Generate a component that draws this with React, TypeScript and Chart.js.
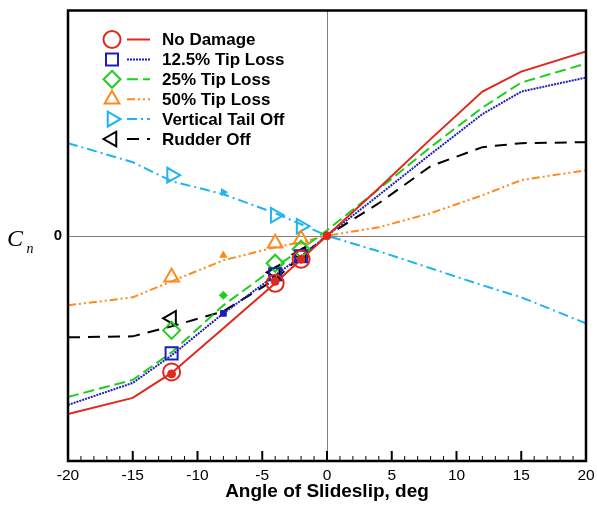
import React, { useEffect, useRef } from 'react';
import { Chart, registerables } from 'chart.js';

Chart.register(...registerables);

// ---------- Data ----------
const betaLine = [-20, -15, -12, -8, -4, -2, 0, 4, 8, 12, 15, 20];
const noDamageLine = [-0.0356, -0.0324, -0.0274, -0.0185, -0.0095, -0.0047, 0.0, 0.0095, 0.0193, 0.0288, 0.0328, 0.0368];
const tip125Line = [-0.0338, -0.0294, -0.0239, -0.0155, -0.0079, -0.0041, 0.0, 0.0081, 0.0163, 0.0243, 0.0288, 0.0316];
const tip25Line = [-0.0322, -0.0288, -0.0233, -0.0139, -0.0063, -0.0027, 0.0011, 0.0093, 0.0177, 0.0256, 0.0306, 0.0344];
const tip50Line = [-0.0139, -0.0123, -0.0091, -0.0049, -0.0023, -0.0013, 0.0, 0.0017, 0.0045, 0.0081, 0.0111, 0.0131];
const vtOffLine = [0.0185, 0.0147, 0.0109, 0.0083, 0.0045, 0.0023, 0.0, -0.0031, -0.0065, -0.0099, -0.0123, -0.0175];
const rudderOffLine = [-0.0203, -0.0201, -0.0181, -0.0151, -0.0087, -0.0041, 0.0, 0.0065, 0.0139, 0.0177, 0.0185, 0.0187];

const betaExp = [-12, -4, -2];
const noDamageExp = [-0.0272, -0.0095, -0.0047];
const tip125Exp = [-0.0235, -0.0077, -0.0041];
const tip25Exp = [-0.0189, -0.0055, -0.0027];
const tip50Exp = [-0.0083, -0.0015, -0.0007];
const vtOffExp = [0.0121, 0.0041, 0.0019];
const rudderOffExp = [-0.0165, -0.0073, -0.0037];

const betaSmall = [-8];
const tip125Small = [-0.0155];
const tip25Small = [-0.0119];
const tip50Small = [-0.0039];
const vtOffSmall = [0.0087];
const betaRedSmall = [-12, -4, -2, 0];
const noDamageSmall = [-0.0276, -0.0091, -0.0047, 0.0];

const xTickMin = -20;
const xTickMax = 20;
const yMin = -0.045;
const yMax = 0.045;

const labels = ['No Damage', '12.5% Tip Loss', '25% Tip Loss', '50% Tip Loss', 'Vertical Tail Off', 'Rudder Off'];
const xTitle = 'Angle of Slideslip, deg';

// ---------- Styles ----------
const RED = '#e0281c';
const BLUE = '#1f1fb8';
const GREEN = '#1ecf1e';
const ORANGE = '#ff8a1c';
const CYAN = '#1cb4f2';
const BLACK = '#000000';

const SANS = '"Liberation Sans", Arial, Helvetica, sans-serif';

const series = [
  { label: labels[0], color: RED, dash: [] as number[], style: 'circle', rot: 0, line: noDamageLine, exp: noDamageExp },
  { label: labels[1], color: BLUE, dash: [2, 1], style: 'rect', rot: 0, line: tip125Line, exp: tip125Exp },
  { label: labels[2], color: GREEN, dash: [11, 5], style: 'rectRot', rot: 0, line: tip25Line, exp: tip25Exp },
  { label: labels[3], color: ORANGE, dash: [8, 3, 2, 3, 2, 3], style: 'triangle', rot: 0, line: tip50Line, exp: tip50Exp },
  { label: labels[4], color: CYAN, dash: [10, 4, 2, 4], style: 'triangle', rot: 90, line: vtOffLine, exp: vtOffExp },
  { label: labels[5], color: BLACK, dash: [12, 8], style: 'triangle', rot: -90, line: rudderOffLine, exp: rudderOffExp },
];

function pts(xs: number[], ys: number[]) {
  return xs.map((x, i) => ({ x, y: ys[i] }));
}

function drawMarker(ctx: CanvasRenderingContext2D, style: string, x: number, y: number, r: number, rotDeg: number) {
  let rad = (rotDeg * Math.PI) / 180;
  ctx.beginPath();
  if (style === 'circle') {
    ctx.arc(x, y, r, 0, Math.PI * 2);
  } else if (style === 'rect') {
    const s = r * Math.SQRT1_2;
    ctx.rect(x - s, y - s, 2 * s, 2 * s);
  } else if (style === 'rectRot') {
    ctx.moveTo(x, y - r);
    ctx.lineTo(x + r, y);
    ctx.lineTo(x, y + r);
    ctx.lineTo(x - r, y);
    ctx.closePath();
  } else {
    for (let k = 0; k < 3; k++) {
      const px = x + Math.sin(rad) * r;
      const py = y - Math.cos(rad) * r;
      if (k === 0) ctx.moveTo(px, py);
      else ctx.lineTo(px, py);
      rad += (2 * Math.PI) / 3;
    }
    ctx.closePath();
  }
}

const decorPlugin = {
  id: 'decor',
  beforeDatasetsDraw(chart: any) {
    const { ctx, chartArea, scales } = chart;
    const x0 = Math.round(scales.x.getPixelForValue(0)) + 0.5;
    const y0 = Math.round(scales.y.getPixelForValue(0)) + 0.5;
    ctx.save();
    ctx.strokeStyle = '#808080';
    ctx.lineWidth = 1;
    ctx.beginPath();
    ctx.moveTo(x0, chartArea.top);
    ctx.lineTo(x0, chartArea.bottom);
    ctx.moveTo(chartArea.left, y0);
    ctx.lineTo(chartArea.right, y0);
    ctx.stroke();
    ctx.restore();
  },
  afterDraw(chart: any) {
    const { ctx, chartArea, scales } = chart;
    ctx.save();
    // minor/major ticks along the bottom, pointing inward
    ctx.strokeStyle = '#000';
    for (let v = xTickMin; v <= xTickMax; v++) {
      const px = scales.x.getPixelForValue(v);
      const major = v % 5 === 0;
      ctx.lineWidth = major ? 2 : 1;
      ctx.beginPath();
      ctx.moveTo(px, chartArea.bottom);
      ctx.lineTo(px, chartArea.bottom - (major ? 10 : 5));
      ctx.stroke();
    }
    // frame
    ctx.lineWidth = 2.5;
    ctx.strokeRect(chartArea.left, chartArea.top, chartArea.right - chartArea.left, chartArea.bottom - chartArea.top);

    // axis title
    ctx.fillStyle = '#000';
    ctx.font = `bold 19px ${SANS}`;
    ctx.textAlign = 'center';
    ctx.textBaseline = 'alphabetic';
    ctx.fillText(xTitle, (chartArea.left + chartArea.right) / 2, 497);

    // y label C_n
    ctx.textAlign = 'left';
    ctx.font = 'italic 24px "Liberation Serif", "Times New Roman", serif';
    ctx.fillText('C', 7, 246);
    ctx.font = 'italic 14px "Liberation Serif", "Times New Roman", serif';
    ctx.fillText('n', 26.5, 253);

    // legend
    series.forEach((s, i) => {
      const y = 39.5 + i * 19.9;
      ctx.setLineDash([]);
      ctx.strokeStyle = s.color;
      ctx.lineWidth = 2;
      drawMarker(ctx, s.style, 112, y, 8.5, s.rot);
      ctx.stroke();
      ctx.setLineDash(s.dash);
      ctx.beginPath();
      ctx.moveTo(127, y);
      ctx.lineTo(150, y);
      ctx.stroke();
      ctx.setLineDash([]);
      ctx.fillStyle = '#000';
      ctx.font = `bold 17px ${SANS}`;
      ctx.textBaseline = 'middle';
      ctx.fillText(s.label, 162, y + 1);
    });
    ctx.restore();
  },
};

export default function App() {
  const ref = useRef<HTMLCanvasElement | null>(null);

  useEffect(() => {
    if (!ref.current) return;
    const datasets: any[] = [];
    series.forEach((s) => {
      datasets.push({
        type: 'line',
        label: s.label,
        data: pts(betaLine, s.line),
        borderColor: s.color,
        borderWidth: 2,
        borderDash: s.dash,
        pointRadius: 0,
        fill: false,
        tension: 0,
        order: 10,
      });
      datasets.push({
        type: 'line',
        label: s.label + ' exp',
        data: pts(betaExp, s.exp),
        showLine: false,
        pointStyle: s.style,
        pointRotation: s.rot,
        pointRadius: 8.5,
        pointBorderWidth: 2,
        pointBorderColor: s.color,
        pointBackgroundColor: 'rgba(0,0,0,0)',
        borderColor: s.color,
        order: 2,
      });
    });
    const smalls = [
      { color: BLUE, style: 'rect', rot: 0, xs: betaSmall, ys: tip125Small },
      { color: GREEN, style: 'rectRot', rot: 0, xs: betaSmall, ys: tip25Small },
      { color: ORANGE, style: 'triangle', rot: 0, xs: betaSmall, ys: tip50Small },
      { color: CYAN, style: 'triangle', rot: 90, xs: betaSmall, ys: vtOffSmall },
      { color: RED, style: 'circle', rot: 0, xs: betaRedSmall, ys: noDamageSmall },
    ];
    smalls.forEach((s) => {
      datasets.push({
        type: 'line',
        label: 'small',
        data: pts(s.xs, s.ys),
        showLine: false,
        pointStyle: s.style,
        pointRotation: s.rot,
        pointRadius: 4,
        pointBorderWidth: 1,
        pointBorderColor: s.color,
        pointBackgroundColor: s.color,
        borderColor: s.color,
        order: 1,
      });
    });

    const chart = new Chart(ref.current, {
      type: 'line',
      data: { datasets },
      options: {
        responsive: false,
        devicePixelRatio: 1,
        animation: false,
        layout: { padding: { left: 0, right: 11, top: 10, bottom: 0 } },
        plugins: { legend: { display: false }, tooltip: { enabled: false } },
        scales: {
          x: {
            type: 'linear',
            min: xTickMin,
            max: xTickMax,
            grid: { display: false, drawTicks: true, tickLength: 5 },
            border: { display: false },
            ticks: {
              stepSize: 5,
              autoSkip: false,
              maxRotation: 0,
              padding: 0,
              color: '#000',
              font: { family: SANS, size: 15.5 },
            },
            afterFit: (scale: any) => {
              scale.height = 44;
            },
          },
          y: {
            type: 'linear',
            min: yMin,
            max: yMax,
            grid: { display: false, drawTicks: true, tickLength: 6 },
            border: { display: false },
            ticks: {
              padding: 0,
              color: '#000',
              font: { family: SANS, size: 15, weight: 'bold' },
              callback: (v: any) => (v === 0 ? '0' : ''),
            },
            afterBuildTicks: (scale: any) => {
              scale.ticks = [{ value: 0 }];
            },
            afterFit: (scale: any) => {
              scale.width = 68;
            },
          },
        },
      },
      plugins: [decorPlugin],
    } as any);
    return () => chart.destroy();
  }, []);

  return (
    <div style={{ position: 'absolute', left: 0, top: 0, width: 597, height: 505, background: '#fff' }}>
      <canvas ref={ref} width={597} height={505} style={{ display: 'block', width: 597, height: 505 }} />
    </div>
  );
}
